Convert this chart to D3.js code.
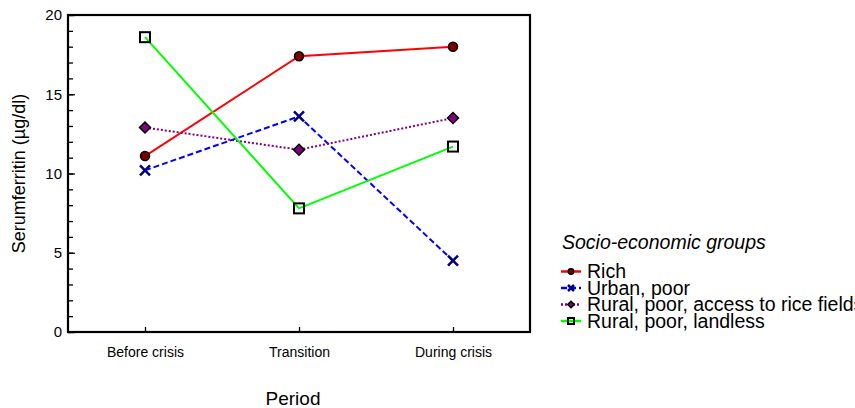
<!DOCTYPE html>
<html>
<head>
<meta charset="utf-8">
<script src="https://cdn.jsdelivr.net/npm/d3@7"></script>
<style>
  body { margin: 0; background: white; }
  text { font-family: "Liberation Sans", Arial, sans-serif; }
</style>
</head>
<body>
<div id="chart"></div>
<script>
// data
var periods = ["Before crisis", "Transition", "During crisis"];
var rich = [11.1, 17.4, 18.0];
var urbanPoor = [10.2, 13.6, 4.5];
var ruralRice = [12.9, 11.5, 13.5];
var ruralLandless = [18.6, 7.8, 11.7];
var groupNames = ["Rich", "Urban, poor", "Rural, poor, access to rice fields", "Rural, poor, landless"];
var yTicks = [0, 5, 10, 15, 20];

var series = [
  {name: groupNames[0], values: rich, color: "#ff0000", dash: null, marker: "circle"},
  {name: groupNames[1], values: urbanPoor, color: "#0000ff", dash: "6,3", marker: "x"},
  {name: groupNames[2], values: ruralRice, color: "#800080", dash: "2,2", marker: "diamond"},
  {name: groupNames[3], values: ruralLandless, color: "#00ff00", dash: null, marker: "square"}
];

var W = 855, H = 408;
var margin = {top: 15, left: 68, right: 325, bottom: 76},
    width = W - margin.left - margin.right,
    height = H - margin.top - margin.bottom;

var svg = d3.select("#chart").append("svg")
    .attr("width", W).attr("height", H);
var g = svg.append("g")
    .attr("transform", "translate(" + margin.left + "," + margin.top + ")");

var x = d3.scalePoint().domain(periods).range([0, width]).padding(0.5);
var y = d3.scaleLinear().domain([0, 20]).range([height, 0]);

// minor y ticks
g.append("g")
  .call(d3.axisRight(y).tickValues(d3.range(0, 21, 1)).tickSize(5).tickFormat(""))
  .call(function(a) { a.select(".domain").remove(); a.selectAll("line").attr("stroke-width", 1.3); });

// major y ticks
g.append("g")
  .call(d3.axisRight(y).tickValues(yTicks).tickSize(7).tickFormat(""))
  .call(function(a) { a.select(".domain").remove(); a.selectAll("line").attr("stroke-width", 1.3); });

g.append("g")
  .call(d3.axisLeft(y).tickValues(yTicks).tickSize(0).tickPadding(6))
  .call(function(a) {
    a.select(".domain").remove();
    a.selectAll("text").attr("font-size", 15).attr("fill", "#000")
      .style("font-family", "'Liberation Sans', Arial, sans-serif");
  });

// x ticks (inward) and labels
g.append("g")
  .attr("transform", "translate(0," + height + ")")
  .call(d3.axisTop(x).tickSize(5).tickFormat(""))
  .call(function(a) { a.select(".domain").remove(); a.selectAll("line").attr("stroke-width", 1.3); });

g.append("g")
  .attr("transform", "translate(0," + height + ")")
  .call(d3.axisBottom(x).tickSize(0).tickPadding(15))
  .call(function(a) {
    a.select(".domain").remove();
    a.selectAll("text").attr("font-size", 14).attr("fill", "#000")
      .style("font-family", "'Liberation Sans', Arial, sans-serif");
  });

// frame
g.append("rect")
  .attr("width", width).attr("height", height)
  .attr("fill", "none").attr("stroke", "#000").attr("stroke-width", 2.2);

var line = d3.line()
  .x(function(d, i) { return x(periods[i]); })
  .y(function(d) { return y(d); });

series.forEach(function(s) {
  g.append("path")
    .datum(s.values)
    .attr("d", line)
    .attr("fill", "none")
    .attr("stroke", s.color)
    .attr("stroke-width", 2)
    .attr("stroke-dasharray", s.dash);
});

function drawMarker(sel, type, cx, cy, scale) {
  scale = scale || 1;
  if (type == "circle") {
    sel.append("circle").attr("cx", cx).attr("cy", cy).attr("r", 4.5 * scale)
      .attr("fill", "#800000").attr("stroke", "#000").attr("stroke-width", 1.5);
  } else if (type == "square") {
    var s = 10 * scale;
    sel.append("rect").attr("x", cx - s / 2).attr("y", cy - s / 2).attr("width", s).attr("height", s)
      .attr("fill", "none").attr("stroke", "#000").attr("stroke-width", 2);
  } else if (type == "diamond") {
    var d = 5.5 * scale;
    sel.append("path")
      .attr("d", "M" + cx + "," + (cy - d) + "L" + (cx + d) + "," + cy + "L" + cx + "," + (cy + d) + "L" + (cx - d) + "," + cy + "Z")
      .attr("fill", "#800080").attr("stroke", "#000").attr("stroke-width", 1.5);
  } else if (type == "x") {
    var k = 5 * scale;
    sel.append("path")
      .attr("d", "M" + (cx - k) + "," + (cy - k) + "L" + (cx + k) + "," + (cy + k) + "M" + (cx - k) + "," + (cy + k) + "L" + (cx + k) + "," + (cy - k))
      .attr("stroke", "#000080").attr("stroke-width", 2.5).attr("fill", "none");
  }
}

series.forEach(function(s) {
  s.values.forEach(function(v, i) {
    drawMarker(g, s.marker, x(periods[i]), y(v));
  });
});

// axis titles
svg.append("text")
  .attr("transform", "translate(25," + (margin.top + height / 2) + ") rotate(-90)")
  .attr("text-anchor", "middle")
  .attr("font-size", 18)
  .text("Serumferritin (µg/dl)");

svg.append("text")
  .attr("x", margin.left + width / 2 - 6)
  .attr("y", 405)
  .attr("text-anchor", "middle")
  .attr("font-size", 19)
  .text("Period");

// legend
var leg = svg.append("g").attr("transform", "translate(561,0)");
leg.append("text")
  .attr("x", 1).attr("y", 249)
  .attr("font-size", 19.5).attr("font-style", "italic")
  .text("Socio-economic groups");

series.forEach(function(s, i) {
  var yy = 271.5 + i * 16.5;
  leg.append("line")
    .attr("x1", 0).attr("x2", 20).attr("y1", yy).attr("y2", yy)
    .attr("stroke", s.color).attr("stroke-width", 2.5)
    .attr("stroke-dasharray", s.dash);
  drawMarker(leg, s.marker, 10, yy, 0.6);
  leg.append("text")
    .attr("x", 26).attr("y", yy + 6.5)
    .attr("font-size", 19.5)
    .text(s.name);
});
</script>
</body>
</html>
